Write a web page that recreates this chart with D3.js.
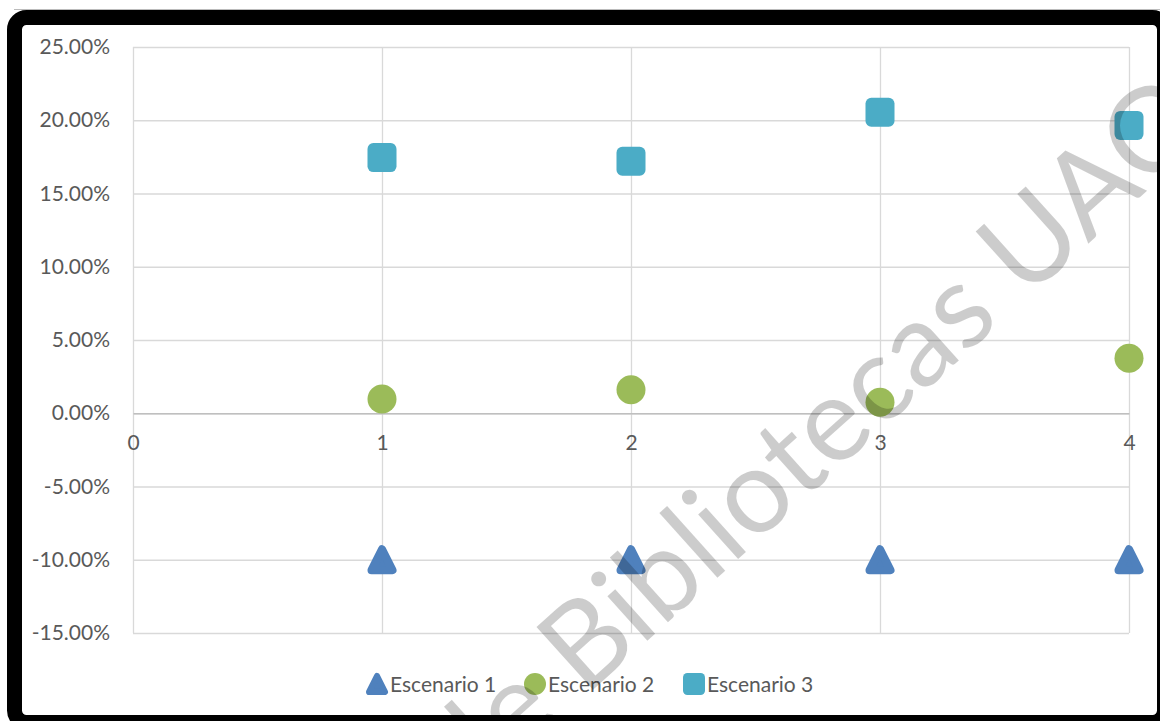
<!DOCTYPE html>
<html>
<head>
<meta charset="utf-8">
<script src="https://cdn.jsdelivr.net/npm/d3@7"></script>
<style>
  html, body { margin: 0; padding: 0; background: #fff; }
  svg { display: block; }
  text { font-family: Lato, "Open Sans", sans-serif; }
</style>
</head>
<body>
<svg id="chart" width="1160" height="721"></svg>
<script>
// Scenario returns at each period (fractions)
const periods = [1, 2, 3, 4];
const escenario1 = [-0.10, -0.10, -0.10, -0.10];
const escenario2 = [0.0098, 0.016, 0.0075, 0.0375];
const escenario3 = [0.1745, 0.172, 0.2055, 0.1965];

const seriesNames = ["Escenario 1", "Escenario 2", "Escenario 3"];
const seriesColors = ["#4F81BD", "#9BBB59", "#4BACC6"];
const seriesShapes = ["triangle", "circle", "square"];

const xTickValues = [0, 1, 2, 3, 4];
const yTickValues = [-0.15, -0.10, -0.05, 0, 0.05, 0.10, 0.15, 0.20, 0.25];

const svg = d3.select("#chart");
const W = 1160, H = 721;
const plot = { left: 133, right: 1129, top: 47, bottom: 633 };

const x = d3.scaleLinear().domain([0, 4]).range([plot.left, plot.right]);
const y = d3.scaleLinear().domain([-0.15, 0.25]).range([plot.bottom, plot.top]);
// Percent format with a plain hyphen for negatives
const pct = d3.formatLocale({ decimal: ".", thousands: ",", grouping: [3],
  currency: ["$", ""], minus: "-" }).format(".2%");

svg.append("rect").attr("width", W).attr("height", H).attr("fill", "#fff");

// Horizontal gridlines
const yAxis = d3.axisLeft(y).tickValues(yTickValues).tickFormat(pct)
  .tickSize(-(plot.right - plot.left)).tickPadding(23);
const gy = svg.append("g").attr("transform", `translate(${plot.left},0)`).call(yAxis);
gy.select(".domain").remove();
gy.selectAll(".tick line").attr("stroke", "#D9D9D9").attr("stroke-width", 1.3);
gy.selectAll(".tick text").attr("fill", "#595959").style("font-size", "21px")
  .style("font-family", "Lato, sans-serif");

// Vertical gridlines
const xGrid = d3.axisBottom(x).tickValues(xTickValues).tickFormat("")
  .tickSize(-(plot.bottom - plot.top));
const gxg = svg.append("g").attr("transform", `translate(0,${plot.bottom})`).call(xGrid);
gxg.select(".domain").remove();
gxg.selectAll(".tick line").attr("stroke", "#D9D9D9").attr("stroke-width", 1.3);

// Horizontal axis through zero
const xAxis = d3.axisBottom(x).tickValues(xTickValues).tickFormat(d3.format("d"))
  .tickSize(0).tickPadding(22);
const gx = svg.append("g").attr("transform", `translate(0,${y(0)})`).call(xAxis);
gx.select(".domain").attr("stroke", "#BFBFBF").attr("stroke-width", 1.5);
gx.selectAll(".tick text").attr("fill", "#595959").style("font-size", "21px")
  .style("font-family", "Lato, sans-serif");

// Marker shapes
function drawMarker(g, shape, color, size) {
  const s = size / 2;
  if (shape === "circle") {
    g.append("circle").attr("r", s).attr("fill", color);
  } else if (shape === "square") {
    g.append("rect").attr("x", -s).attr("y", -s).attr("width", size).attr("height", size)
      .attr("rx", size * 0.2).attr("fill", color);
  } else {
    const r = size * 0.14;
    const pts = [[0, -s + r], [s - r, s - r], [-(s - r), s - r]];
    g.append("polygon").attr("points", pts.map(p => p.join(",")).join(" "))
      .attr("fill", color).attr("stroke", color).attr("stroke-width", 2 * r)
      .attr("stroke-linejoin", "round");
  }
}

const allSeries = [escenario1, escenario2, escenario3];
allSeries.forEach((vals, i) => {
  const g = svg.append("g").attr("class", "series");
  periods.forEach((p, j) => {
    const m = g.append("g").attr("transform", `translate(${x(p)},${y(vals[j])})`);
    drawMarker(m, seriesShapes[i], seriesColors[i], 29);
  });
});

// Legend
const legendX = [377, 535, 694];
const legendY = 684;
seriesNames.forEach((name, i) => {
  const m = svg.append("g").attr("transform", `translate(${legendX[i]},${legendY})`);
  drawMarker(m, seriesShapes[i], seriesColors[i], 22);
  svg.append("text").attr("x", legendX[i] + 13).attr("y", legendY + 7.5)
    .attr("fill", "#595959").style("font-size", "21px").text(name);
});

// Library watermark, laid along a diagonal baseline
const wmText = "de Bibliotecas UAO";
const wmAngle = 42;
const wmAnchor = [1088, 244];           // baseline point where the "A" begins
const wm = svg.append("text")
  .attr("fill", "#000").attr("fill-opacity", 0.2)
  .style("font-family", "Lato, sans-serif")
  .style("font-size", "118px")
  .text(wmText);
const leadLen = wm.node().getSubStringLength(0, wmText.indexOf("A"));
const rad = wmAngle * Math.PI / 180;
const wx = wmAnchor[0] - leadLen * Math.cos(rad);
const wy = wmAnchor[1] + leadLen * Math.sin(rad);
wm.attr("transform", `translate(${wx},${wy}) rotate(${-wmAngle})`);

// Outer frame
svg.append("rect").attr("x", 14.5).attr("y", 17.5).attr("width", 1150).attr("height", 705)
  .attr("rx", 12).attr("fill", "none").attr("stroke", "#000").attr("stroke-width", 15);
svg.append("line").attr("x1", 14).attr("x2", W).attr("y1", 9.5).attr("y2", 9.5)
  .attr("stroke", "#BBBBBB").attr("stroke-width", 1);
</script>
</body>
</html>
